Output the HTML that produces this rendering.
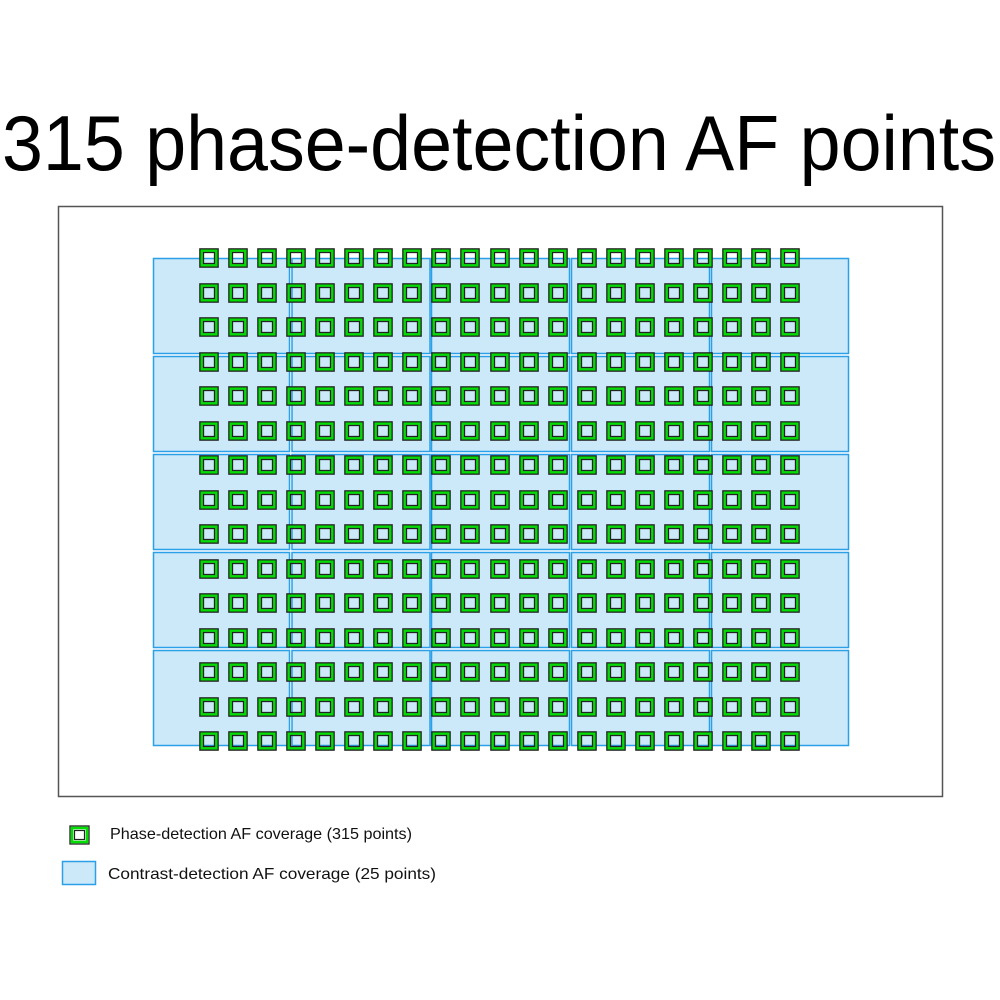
<!DOCTYPE html>
<html><head><meta charset="utf-8"><style>html,body{margin:0;padding:0;background:#fff}svg{display:block}</style></head>
<body>
<svg id="s" width="1000" height="1000" xmlns="http://www.w3.org/2000/svg" font-family="Liberation Sans, sans-serif">
<rect width="1000" height="1000" fill="#fff"/>
<text x="2" y="170" font-size="78" textLength="994" lengthAdjust="spacingAndGlyphs" fill="#000">315 phase-detection AF points</text>
<rect x="58.5" y="206.5" width="884" height="590" fill="#fff" stroke="#555" stroke-width="1.5"/>
<g id="blue" fill="#cce9f9" stroke="#2aa0e8" stroke-width="1.5"></g>
<g id="pts"></g>
<rect x="70" y="826" width="19" height="18" fill="#fff" stroke="#222" stroke-width="1.3"/>
<rect x="72" y="828" width="15" height="14" fill="none" stroke="#00dd00" stroke-width="2.6"/>
<rect x="74.5" y="830.5" width="10" height="9" fill="#fff" stroke="#222" stroke-width="1.2"/>
<text x="110" y="839" font-size="16" textLength="302" lengthAdjust="spacingAndGlyphs" fill="#111">Phase-detection AF coverage (315 points)</text>
<rect x="62.5" y="861.5" width="33" height="23" fill="#cce9f9" stroke="#2aa0e8" stroke-width="1.5"/>
<text x="108" y="879" font-size="16" textLength="328" lengthAdjust="spacingAndGlyphs" fill="#111">Contrast-detection AF coverage (25 points)</text>
</svg>
<script>
var ns="http://www.w3.org/2000/svg";
var b=document.getElementById("blue"),p=document.getElementById("pts");
var cx=[153,291.5,431,571,711],cw=[136,138,138,138,137];
var ry=[258,356,454,552,650];
for(var r=0;r<5;r++)for(var c=0;c<5;c++){var e=document.createElementNS(ns,"rect");e.setAttribute("x",cx[c]+.5);e.setAttribute("y",ry[r]+.5);e.setAttribute("width",cw[c]);e.setAttribute("height",95);b.appendChild(e);}
function R(x,y,w,h,f,s,sw){var e=document.createElementNS(ns,"rect");e.setAttribute("x",x);e.setAttribute("y",y);e.setAttribute("width",w);e.setAttribute("height",h);e.setAttribute("fill",f);e.setAttribute("stroke",s);e.setAttribute("stroke-width",sw);p.appendChild(e);}
for(var i=0;i<21;i++)for(var j=0;j<15;j++){var x=Math.round(209+29.05*i),y=Math.round(258+34.5*j);
R(x-9,y-9,18,18,"none","#222",1.6);
R(x-7.3,y-7.3,14.6,14.6,"none","#00dd00",2.4);
R(x-5.5,y-5.5,11,11,"none","#222",1.3);}
</script>
</body></html>
